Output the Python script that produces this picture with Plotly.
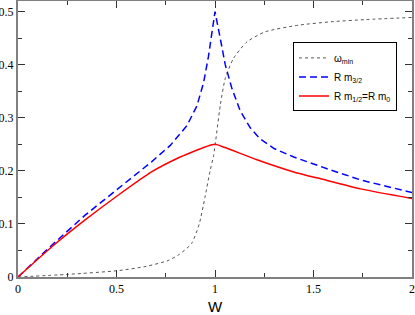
import plotly.graph_objects as go

# omega_min (dotted grey)
w_omega = [0, 0.254, 0.508, 0.65, 0.762, 0.82, 0.881, 0.92, 0.949, 0.975, 0.993, 1.027,
           1.052, 1.094, 1.162, 1.255, 1.425, 1.594, 1.764, 2.0]
omega_min = [0, 0.005, 0.012, 0.02, 0.031, 0.043, 0.063, 0.1, 0.15, 0.2, 0.229, 0.324,
             0.374, 0.412, 0.443, 0.462, 0.4745, 0.481, 0.485, 0.489]

# R m_{3/2} (blue dashed)
w_m32 = [0, 0.169, 0.339, 0.508, 0.678, 0.773, 0.857, 0.908, 0.942, 0.967, 0.984, 1.0,
         1.027, 1.052, 1.086, 1.128, 1.179, 1.23, 1.3, 1.4, 1.569, 1.738, 2.0]
r_m32 = [0, 0.059, 0.116, 0.167, 0.217, 0.248, 0.285, 0.322, 0.366, 0.416, 0.46, 0.5,
         0.449, 0.4, 0.355, 0.313, 0.281, 0.26, 0.242, 0.226, 0.204, 0.183, 0.159]

# R m_{1/2} = R m_0 (red solid)
w_m12 = [0, 0.169, 0.339, 0.508, 0.678, 0.823, 0.9, 0.95, 1.0, 1.05, 1.213, 1.4, 1.569, 1.738, 2.0]
r_m12 = [0, 0.056, 0.107, 0.154, 0.198, 0.226, 0.238, 0.245, 0.25, 0.244, 0.221, 0.198, 0.182, 0.166, 0.148]

series_names = ["ω<sub>min</sub>", "R m<sub>3/2</sub>", "R m<sub>1/2</sub>=R m<sub>0</sub>"]

x_ticks = [0, 0.5, 1, 1.5, 2]
x_ticklabels = ["0", "0.5", "1", "1.5", "2"]
y_ticks = [0, 0.1, 0.2, 0.3, 0.4, 0.5]
y_ticklabels = ["0", "0.1", "0.2", "0.3", "0.4", "0.5"]

serif = "Liberation Serif"
sans = "Liberation Sans"

styles = [
    dict(color="#555555", width=1, dash="dot", shape="spline", smoothing=0.6),
    dict(color="#0000ff", width=1.5, dash="7px,4px"),
    dict(color="#ff0000", width=1.5, shape="spline", smoothing=0.6),
]

fig = go.Figure()
for (xs, ys), name, st in zip([(w_omega, omega_min), (w_m32, r_m32), (w_m12, r_m12)],
                              series_names, styles):
    fig.add_trace(go.Scatter(x=xs, y=ys, mode="lines", name=name, line=st))

axis_common = dict(
    showgrid=False, zeroline=False, showline=True, linecolor="#808080", linewidth=2,
    mirror="ticks", ticks="inside", ticklen=7, tickwidth=1, tickcolor="#333333",
    tickfont=dict(family=serif, size=12, color="black"),
)

fig.update_xaxes(range=[0, 2], tickvals=x_ticks, ticktext=x_ticklabels,
                 minor=dict(dtick=0.25, ticks="inside", ticklen=4, tickcolor="#333333"),
                 title=dict(text="W", font=dict(family=sans, size=15, color="black"),
                            standoff=16),
                 **axis_common)
fig.update_yaxes(range=[0, 0.52], tickvals=y_ticks, ticktext=y_ticklabels,
                 minor=dict(dtick=0.05, ticks="inside", ticklen=4, tickcolor="#333333"),
                 **axis_common)

fig.update_layout(
    width=415, height=315,
    margin=dict(l=18, r=3, t=1, b=38, autoexpand=False),
    plot_bgcolor="white", paper_bgcolor="white",
    showlegend=True,
    legend=dict(x=0.698, y=0.85, xanchor="left", yanchor="top",
                bordercolor="black", borderwidth=1, bgcolor="rgba(255,255,255,0)",
                font=dict(family=sans, size=10, color="black"),
                tracegroupgap=0, itemwidth=30),
)

fig.write_html("out.html", config={"displayModeBar": False},
               post_script="document.body.style.margin='0';document.body.style.padding='0';")
